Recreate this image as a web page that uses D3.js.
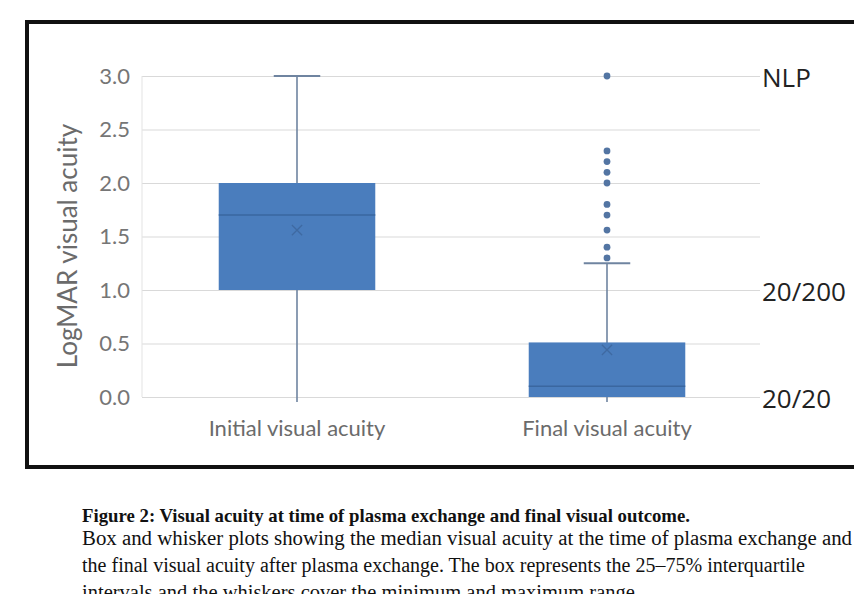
<!DOCTYPE html>
<html>
<head>
<meta charset="utf-8">
<script src="https://cdn.jsdelivr.net/npm/d3@7"></script>
<style>
  body { margin: 0; background: #fff; }
  svg { display: block; }
</style>
</head>
<body>
<div id="visual"></div>
<script>
// values
const categories = ["Initial visual acuity", "Final visual acuity"]
const whiskerLow = [0.0, 0.0]
const q1 = [1.0, 0.0]
const median = [1.7, 0.1]
const q3 = [2.0, 0.51]
const whiskerHigh = [3.0, 1.25]
const means = [1.56, 0.44]
const finalOutliers = [3.0, 2.3, 2.2, 2.1, 2.0, 1.8, 1.7, 1.56, 1.4, 1.3]
const yTicks = [0, 0.5, 1.0, 1.5, 2.0, 2.5, 3.0]
const snellenLabels = ["NLP", "20/200", "20/20"]
const snellenValues = [3.0, 1.0, 0.0]
const captionTitle = "Figure 2: Visual acuity at time of plasma exchange and final visual outcome."
const captionLines = [
  "Box and whisker plots showing the median visual acuity at the time of plasma exchange and",
  "the final visual acuity after plasma exchange. The box represents the 25\u201375% interquartile",
  "intervals and the whiskers cover the minimum and maximum range."
]

let width = 854,
    height = 594

const boxes = categories.map(function(c, i) {
  return { cat: c, lo: whiskerLow[i], q1: q1[i], med: median[i], q3: q3[i], hi: whiskerHigh[i], mean: means[i] }
})

const svg = d3.select("#visual")
  .append("svg")
  .attr("width", width)
  .attr("height", height)

// black frame around the chart
svg.append("rect")
  .attr("x", 27)
  .attr("y", 22)
  .attr("width", 860)
  .attr("height", 445)
  .attr("fill", "none")
  .attr("stroke", "#111")
  .attr("stroke-width", 4)

let scaleY = d3.scaleLinear()
  .domain([0, 3])
  .range([397, 76])

let scaleX = d3.scaleBand()
  .domain(categories)
  .range([142, 762])

const bw = scaleX.bandwidth()

// gridlines
svg.append("g")
  .attr("class", "grid")
  .attr("transform", "translate(142,0)")
  .call(d3.axisLeft(scaleY)
    .tickValues(yTicks)
    .tickSize(-(760 - 142))
    .tickFormat("")
  )
  .call(g => g.select(".domain").remove())
  .call(g => g.selectAll("line").attr("stroke", "#d9d9d9").attr("stroke-width", 1.2))

// light left axis line
svg.append("line")
  .attr("x1", 142).attr("x2", 142)
  .attr("y1", scaleY(3)).attr("y2", scaleY(0))
  .attr("stroke", "#e3e3e3")

// tick labels
svg.append("g")
  .attr("class", "y-axis")
  .attr("transform", "translate(142,0)")
  .call(d3.axisLeft(scaleY)
    .tickValues(yTicks)
    .tickSize(0)
    .tickPadding(12)
    .tickFormat(d3.format(".1f"))
  )
  .call(g => g.select(".domain").remove())
  .call(g => g.selectAll("text")
    .attr("font-family", "Lato, 'Open Sans', sans-serif")
    .attr("font-size", "22px")
    .attr("fill", "#767676"))

// y axis title
svg.append("text")
  .attr("transform", "translate(77,246) rotate(-90)")
  .attr("text-anchor", "middle")
  .attr("font-family", "Lato, 'Open Sans', sans-serif")
  .attr("font-size", "26px")
  .attr("fill", "#6b6b6b")
  .text("LogMAR visual acuity")

// category labels
svg.append("g")
  .selectAll("text")
  .data(categories)
  .enter()
  .append("text")
  .attr("x", d => scaleX(d) + bw / 2)
  .attr("y", 436)
  .attr("text-anchor", "middle")
  .attr("font-family", "Lato, 'Open Sans', sans-serif")
  .attr("font-size", "22px")
  .attr("fill", "#6b6b6b")
  .text(d => d)

const boxW = bw * 0.505,
      capW = bw * 0.15

let groups = svg.append("g")
  .selectAll("g")
  .data(boxes)
  .enter()
  .append("g")
  .attr("transform", d => "translate(" + (scaleX(d.cat) + bw / 2) + ",0)")

// whiskers
groups.append("line")
  .attr("x1", 0).attr("x2", 0)
  .attr("y1", d => scaleY(d.hi))
  .attr("y2", d => scaleY(d.lo) + 5)
  .attr("stroke", "#6f84a0")
  .attr("stroke-width", 1.6)

groups.append("line")
  .attr("x1", -capW / 2).attr("x2", capW / 2)
  .attr("y1", d => scaleY(d.hi))
  .attr("y2", d => scaleY(d.hi))
  .attr("stroke", "#6f84a0")
  .attr("stroke-width", 2)

// boxes
groups.append("rect")
  .attr("x", -boxW / 2)
  .attr("width", boxW)
  .attr("y", d => scaleY(d.q3))
  .attr("height", d => scaleY(d.q1) - scaleY(d.q3))
  .attr("fill", "#4a7dbd")

// medians
groups.append("line")
  .attr("x1", -boxW / 2).attr("x2", boxW / 2)
  .attr("y1", d => scaleY(d.med))
  .attr("y2", d => scaleY(d.med))
  .attr("stroke", "#3a67a0")
  .attr("stroke-width", 1.5)

// mean markers (x)
groups.append("path")
  .attr("transform", d => "translate(0," + scaleY(d.mean) + ")")
  .attr("d", d3.symbol(d3.symbolX, 70))
  .attr("fill", "none")
  .attr("stroke", "#3f6aa2")
  .attr("stroke-width", 1.3)

// outliers of final acuity
svg.append("g")
  .selectAll("circle")
  .data(finalOutliers)
  .enter()
  .append("circle")
  .attr("cx", scaleX(categories[1]) + bw / 2)
  .attr("cy", d => scaleY(d))
  .attr("r", 3.4)
  .attr("fill", "#5375a3")

// Snellen equivalents on the right
svg.append("g")
  .selectAll("text")
  .data(snellenLabels)
  .enter()
  .append("text")
  .attr("x", 762)
  .attr("y", (d, i) => scaleY(snellenValues[i]) + 2)
  .attr("dy", "0.35em")
  .attr("font-family", "'Open Sans', sans-serif")
  .attr("font-size", "26px")
  .attr("fill", "#222")
  .text(d => d)

// caption below
svg.append("text")
  .attr("x", 82)
  .attr("y", 522)
  .attr("font-family", "'Liberation Serif', 'Times New Roman', serif")
  .attr("font-weight", "bold")
  .attr("font-size", "19px")
  .attr("textLength", 608)
  .attr("lengthAdjust", "spacingAndGlyphs")
  .attr("fill", "#111")
  .text(captionTitle)

const captionW = [770, 723, 558]
svg.append("g")
  .selectAll("text")
  .data(captionLines)
  .enter()
  .append("text")
  .attr("x", 82)
  .attr("y", (d, i) => 545 + i * 27)
  .attr("font-family", "'Liberation Serif', 'Times New Roman', serif")
  .attr("font-size", "20px")
  .attr("textLength", (d, i) => captionW[i])
  .attr("lengthAdjust", "spacingAndGlyphs")
  .attr("fill", "#111")
  .text(d => d)
</script>
</body>
</html>
